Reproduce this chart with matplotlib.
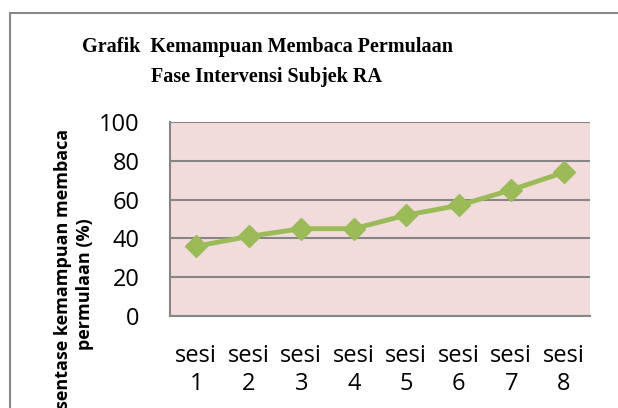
import matplotlib.pyplot as plt
from matplotlib.patches import Rectangle

sesi = ["sesi\n1", "sesi\n2", "sesi\n3", "sesi\n4", "sesi\n5", "sesi\n6", "sesi\n7", "sesi\n8"]
persen = [36, 41, 45, 45, 52, 57, 65, 74]
y_ticks = [0, 20, 40, 60, 80, 100]

W, H = 618, 408
fig = plt.figure(figsize=(W / 100, H / 100), dpi=100)

# outer chart frame (cut off at right and bottom)
fig.patches.append(Rectangle((10 / W, -0.1), 1.2, (H - 13) / H + 0.1,
                             transform=fig.transFigure, fill=False,
                             edgecolor="#888888", linewidth=1.5))

ax = fig.add_axes([170 / W, 1 - 316 / H, 420 / W, 194 / H])
ax.set_facecolor("#F2DCDB")

x = list(range(1, len(persen) + 1))
ax.plot(x, persen, color="#9BBB59", linewidth=3.5, marker="D",
        markersize=11, markeredgecolor="#9BBB59", zorder=3)

ax.set_xlim(0.5, len(persen) + 0.5)
ax.set_ylim(0, 100)
ax.set_yticks(y_ticks)
ax.set_xticks(x)
ax.set_xticklabels(sesi, fontsize=17, family="Open Sans", linespacing=1.25)
ax.set_yticklabels([str(v) for v in y_ticks], fontsize=17, family="Open Sans")
ax.tick_params(axis="both", length=0)
ax.tick_params(axis="y", pad=22)
ax.tick_params(axis="x", pad=20)

ax.grid(axis="y", color="#868686", linewidth=1.5)
ax.set_axisbelow(True)
for s in ["top", "right"]:
    ax.spines[s].set_visible(False)
for s in ["left", "bottom"]:
    ax.spines[s].set_color("#868686")
    ax.spines[s].set_linewidth(1.5)

fig.text(82 / W, 1 - 47 / H, "Grafik  Kemampuan Membaca Permulaan",
         family="Liberation Serif", weight="bold", fontsize=14.5,
         ha="left", va="center")
fig.text(266 / W, 1 - 77 / H, "Fase Intervensi Subjek RA",
         family="Liberation Serif", weight="bold", fontsize=14.5,
         ha="center", va="center")

# y label is partly cut off by the bottom edge, as in the reference
fig.text(74 / W, 1 - 284 / H, "Persentase kemampuan membaca\npermulaan (%)",
         family="Open Sans", weight="bold", fontsize=13, rotation=90,
         ha="center", va="center", linespacing=1.35)

fig.savefig("out.png", dpi=100)
